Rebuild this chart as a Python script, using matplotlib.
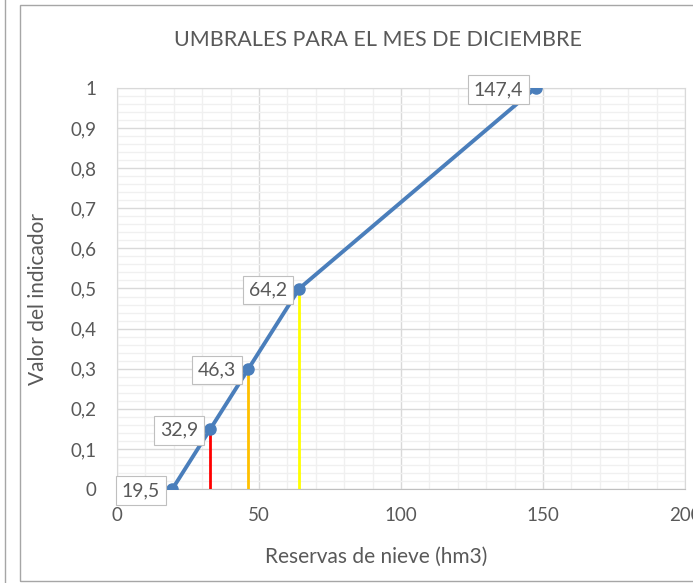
import matplotlib
matplotlib.use('Agg')
import matplotlib.pyplot as plt
from matplotlib.ticker import MultipleLocator, FuncFormatter
from matplotlib.patches import Rectangle
from matplotlib.lines import Line2D

plt.rcParams['font.family'] = ['Lato', 'DejaVu Sans']

# data
reservas = [19.5, 32.9, 46.3, 64.2, 147.4]
indicador = [0, 0.15, 0.3, 0.5, 1]
etiquetas = ['19,5', '32,9', '46,3', '64,2', '147,4']
umbral_x = [32.9, 46.3, 64.2]
umbral_y = [0.15, 0.3, 0.5]
umbral_col = ['#ff0000', '#ffc000', '#ffff00']

txt = '#595959'

fig = plt.figure(figsize=(6.93, 5.83), dpi=100)
ax = fig.add_axes([117/693, 94/583, 568/693, 401/583])

# chart frame (cropped on the right) and neighbour chart edge
fig.patches.append(Rectangle((20/693, 2/583), 1.0, 576/583, transform=fig.transFigure,
                             fill=False, edgecolor='#a6a6a6', lw=1))
fig.lines.append(Line2D([5/693, 5/693], [0, 1], transform=fig.transFigure,
                        color='#a6a6a6', lw=1))

for x, y, c in zip(umbral_x, umbral_y, umbral_col):
    ax.plot([x, x], [0, y], color=c, lw=2, zorder=3)

ax.plot(reservas, indicador, color='#4a7ebb', lw=2.8, marker='o', ms=8, zorder=4)

for x, y, t in zip(reservas, indicador, etiquetas):
    ax.annotate(t, (x, y), xytext=(-9, -1), textcoords='offset points',
                ha='right', va='center', fontsize=14, color=txt, zorder=5,
                bbox=dict(boxstyle='square,pad=0.3', fc='white', ec='#bfbfbf', lw=0.8),
                annotation_clip=False)

ax.set_xlim(0, 200)
ax.set_ylim(0, 1)
ax.xaxis.set_major_locator(MultipleLocator(50))
ax.xaxis.set_minor_locator(MultipleLocator(10))
ax.yaxis.set_major_locator(MultipleLocator(0.1))
ax.yaxis.set_minor_locator(MultipleLocator(0.02))
ax.grid(which='major', color='#d9d9d9', lw=1)
ax.grid(which='minor', color='#f0f0f0', lw=1)
ax.set_axisbelow(True)

fmt = FuncFormatter(lambda v, p: ('%g' % round(v, 2)).replace('.', ','))
ax.xaxis.set_major_formatter(fmt)
ax.yaxis.set_major_formatter(fmt)
ax.tick_params(which='both', length=0, labelsize=13.5, colors=txt)
ax.tick_params(axis='x', pad=13)
ax.tick_params(axis='y', pad=15)

for s in ['top', 'right', 'left']:
    ax.spines[s].set_color('#d9d9d9')
ax.spines['bottom'].set_color('#bfbfbf')

fig.text(376/693, 1 - 557/583, 'Reservas de nieve (hm3)', ha='center', va='center',
         fontsize=15, color=txt)
fig.text(38/693, 1 - 299/583, 'Valor del indicador', ha='center', va='center',
         rotation=90, fontsize=15, color=txt)
fig.text(378/693, 1 - 40/583, 'UMBRALES PARA EL MES DE DICIEMBRE', ha='center', va='center',
         fontsize=15.5, color=txt)

fig.savefig('out.png', dpi=100)
